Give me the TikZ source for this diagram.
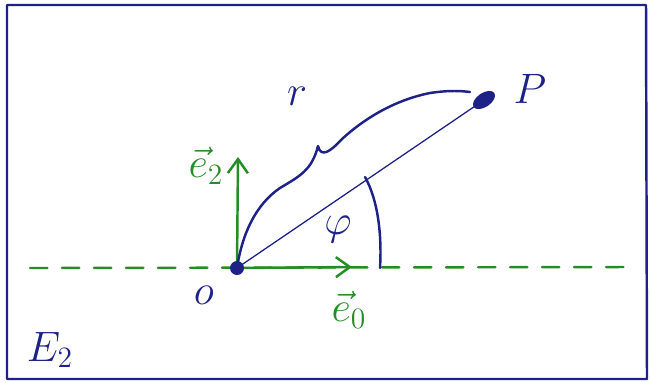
\documentclass[tikz,border=0pt]{standalone}
\usetikzlibrary{arrows.meta,shapes.geometric}
\definecolor{ink}{RGB}{30,34,135}
\definecolor{grn}{RGB}{38,140,38}
\newcommand{\biglbl}[1]{\scalebox{1.75}{\huge #1}}
\begin{document}
\begin{tikzpicture}[x=0.03cm,y=-0.03cm,
  inkline/.style={draw=ink, line width=2.1pt, line cap=round, line join=round},
  grnline/.style={draw=grn, line width=2.1pt, line cap=round},
  vecarrow/.style={grnline, -{Straight Barb[length=0.42cm,width=0.6cm,line width=2.1pt]}},
  lbl/.style={inner sep=0pt},
  dotO/.style={circle, fill=ink, minimum size=0.42cm, inner sep=0pt},
  dotP/.style={ellipse, fill=ink, minimum width=0.75cm, minimum height=0.42cm, inner sep=0pt, rotate=34},
]
\useasboundingbox (0,0) rectangle (650,382);
% frame
\coordinate (TL) at (7,5);
\coordinate (TR) at (646,5);
\coordinate (BR) at (647,379);
\coordinate (BL) at (7,379);
\draw[inkline] (TL) -- (TR) -- (BR) -- (BL) -- cycle;
% points
\coordinate (O) at (237,268);
\coordinate (P) at (484,100);
\coordinate (LA) at (30,268);
\coordinate (LB) at (625,267);
\coordinate (e1tip) at (352,267);
\coordinate (e2tip) at (238,157);
\coordinate (arcA) at (365,177);
\coordinate (arcB) at (380,268);
% dashed axis
\draw[grnline, dash pattern=on 0.52cm off 0.44cm] (LA) -- (LB);
% radius line
\draw[draw=ink, line width=1.1pt] (O) -- (P);
% basis vectors
\draw[vecarrow] (O) -- (e1tip);
\draw[vecarrow] (O) -- (e2tip);
% angle
\draw[inkline] (arcA) .. controls (378,200) and (382,235) .. (arcB);
% brace for r
\draw[inkline] (O) .. controls (242,235) and (255,205) .. (280,188)
  .. controls (300,176) and (312,170) .. (318,146)
  .. controls (321,158) and (330,152) .. (342,139)
  .. controls (365,118) and (395,100) .. (430,93)
  .. controls (450,90) and (462,91) .. (470,92);
% dots
\node[dotO] (Odot) at (O) {};
\node[dotP] (Pdot) at (P) {};
% labels
\node[lbl, text=grn] (e2lab) at (206,166) {\biglbl{$\vec e_2$}};
\node[lbl, text=grn] (e0lab) at (349,310) {\biglbl{$\vec e_0$}};
\node[lbl, text=ink] (olab) at (204,295) {\biglbl{$o$}};
\node[lbl, text=ink] (Plab) at (530,89) {\biglbl{$P$}};
\node[lbl, text=ink] (rlab) at (297,96) {\biglbl{$r$}};
\node[lbl, text=ink] (philab) at (338,229) {\biglbl{$\varphi$}};
\node[lbl, text=ink] (Elab) at (50,350) {\biglbl{$E_2$}};
\end{tikzpicture}
\end{document}
